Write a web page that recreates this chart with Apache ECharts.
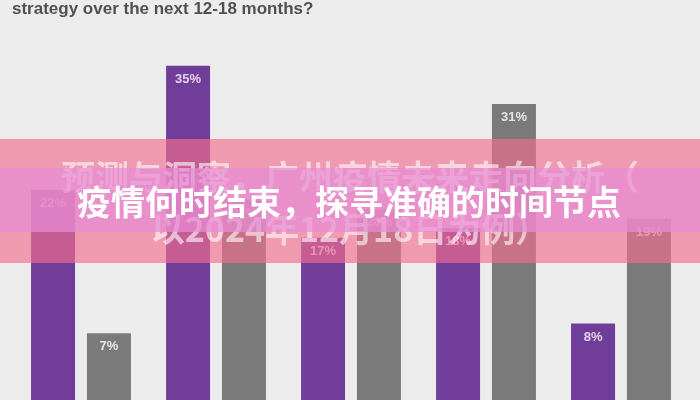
<!DOCTYPE html>
<html>
<head>
<meta charset="utf-8">
<script src="https://cdn.jsdelivr.net/npm/echarts@6/dist/echarts.min.js"></script>
<style>
html,body{margin:0;padding:0;background:#ececec;}
#c{width:700px;height:400px;}
</style>
</head>
<body>
<div id="c"></div>
<script>
const categories = ['1', '2', '3', '4', '5'];
const purpleValues = [22, 35, 17, 18, 8];
const grayValues = [7, 21, 20, 31, 19];
const titleText = 'strategy over the next 12-18 months?';
const bannerLine1 = '预测与洞察，广州疫情未来走向分析（';
const bannerLine2 = '以2024年12月18日为例）';
const bannerMain = '疫情何时结束，探寻准确的时间节点';

const chart = echarts.init(document.getElementById('c'));
const labelStyle = (color) => ({
  show: true,
  position: 'insideTop',
  distance: 7,
  formatter: '{c}%',
  color: color,
  fontSize: 13,
  fontWeight: 'bold',
  fontFamily: 'Liberation Sans, Arial, sans-serif'
});
chart.setOption({
  backgroundColor: '#ececec',
  animation: false,
  grid: { left: 13.5, width: 675, top: 18, height: 384 },
  xAxis: {
    type: 'category',
    data: categories,
    axisLine: { show: false },
    axisTick: { show: false },
    axisLabel: { show: false }
  },
  yAxis: {
    type: 'value',
    min: 0,
    max: 40,
    show: false,
    splitLine: { show: false }
  },
  series: [
    {
      type: 'bar',
      data: purpleValues,
      barWidth: 44,
      barGap: '27%',
      itemStyle: { color: '#703e98' },
      label: labelStyle('#e4d3ef')
    },
    {
      type: 'bar',
      data: grayValues,
      barWidth: 44,
      itemStyle: { color: '#7a7a7a' },
      label: labelStyle('#e6e6e6')
    }
  ],
  graphic: [
    {
      type: 'text', left: 12, top: 1, z: 50,
      style: { text: titleText, fill: '#505050', font: 'bold 17px "Liberation Sans", Arial, sans-serif' }
    },
    {
      type: 'rect', z: 100,
      shape: { x: 0, y: 139, width: 700, height: 124 },
      style: { fill: 'rgba(242,111,144,0.65)' }
    },
    {
      type: 'text', z: 105, x: 350, y: 177,
      style: {
        text: bannerLine1, fill: 'rgba(255,255,255,0.6)',
        font: 'bold 34px "Noto Sans CJK SC", sans-serif',
        align: 'center', verticalAlign: 'middle'
      }
    },
    {
      type: 'text', z: 105, x: 350, y: 229,
      style: {
        text: bannerLine2, fill: 'rgba(255,255,255,0.6)',
        font: 'bold 34px "Noto Sans CJK SC", sans-serif',
        align: 'center', verticalAlign: 'middle'
      }
    },
    {
      type: 'rect', z: 110,
      shape: { x: 0, y: 168, width: 700, height: 64 },
      style: { fill: 'rgba(230,140,212,0.72)' }
    },
    {
      type: 'text', z: 120, x: 349, y: 202,
      style: {
        text: bannerMain, fill: '#ffffff',
        font: 'bold 34px "Noto Sans CJK SC", sans-serif',
        align: 'center', verticalAlign: 'middle',
        shadowColor: 'rgba(80,0,40,0.35)', shadowBlur: 3, shadowOffsetX: 1, shadowOffsetY: 1
      }
    }
  ]
});
</script>
</body>
</html>
